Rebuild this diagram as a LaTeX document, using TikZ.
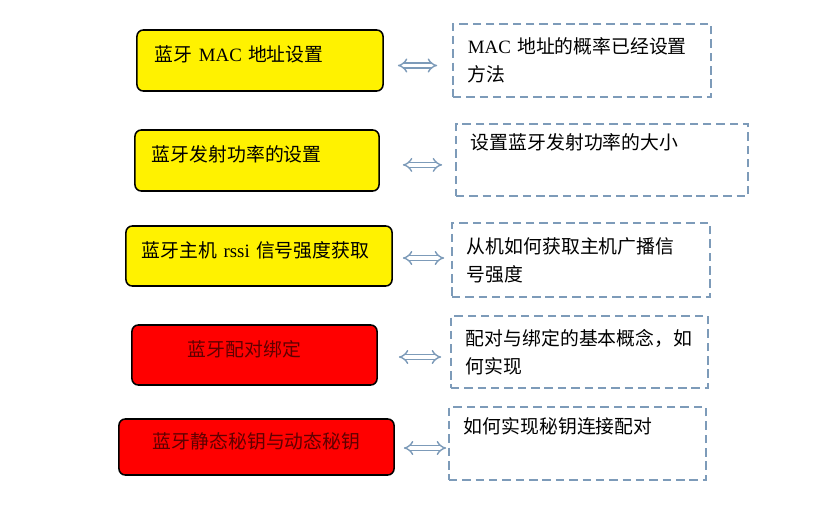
\documentclass[tikz,border=0pt]{standalone}
\usepackage{fontspec}
\setmainfont{Noto Sans CJK SC}
\newfontfamily\latinfont{Liberation Serif}
\usetikzlibrary{arrows.meta}

\definecolor{noteblue}{RGB}{125,155,185}
\definecolor{titlered}{RGB}{95,0,0}

\begin{document}
\begin{tikzpicture}[x=0.025cm, y=-0.025cm, font=\fontsize{13.4}{19.8}\selectfont]
        \tikzset{
            topic/.style={
                draw=black,
                line width=1.1pt,
                rounded corners=4.5pt,
                minimum height=1.5cm,
                text height=0.4cm,
                text depth=0.35cm,
                inner ysep=0pt,
                align=left
            },
            basictopic/.style={topic, fill=yellow},
            pairtopic/.style={topic, fill=red, text=titlered},
            note/.style={
                draw=noteblue,
                line width=1.1pt,
                dash pattern=on 6pt off 3.5pt,
                minimum height=1.825cm,
                inner xsep=0.375cm,
                align=left
            },
            link/.style={
                draw=noteblue,
                double=white,
                double distance=2.4pt,
                line width=1pt,
                {Implies[length=4pt]}-{Implies[length=4pt]}
            }
        }

        \useasboundingbox (0, 0) rectangle (830, 513);

        % left column: topics
        \node[basictopic, minimum height=1.525cm, inner xsep=0.45cm, text width=5.25cm]
            (mac) at (260, 60.5) {蓝牙{\latinfont\ MAC\ }地址设置};
        \node[basictopic, minimum height=1.525cm, inner xsep=0.425cm, text width=5.25cm]
            (power) at (257, 160.5) {蓝牙发射功率的设置};
        \node[basictopic, inner xsep=0.4cm, text width=5.85cm]
            (rssi) at (259, 256) {蓝牙主机{\latinfont\ rssi\ }信号强度获取};
        \node[pairtopic, inner xsep=1.4cm, text width=3.325cm]
            (bond) at (254.5, 355) {蓝牙配对绑定};
        \node[pairtopic, minimum height=1.4cm, inner xsep=0.85cm, text width=5.175cm]
            (passkey) at (256.5, 447) {蓝牙静态秘钥与动态秘钥};

        % right column: notes
        \node[note, text width=5.7cm] (macnote) at (582, 60.5)
            {{\latinfont MAC\ }地址的概率已经设置\\方法};
        \node[note, minimum height=1.8cm, text width=6.55cm] (powernote) at (602, 160)
            {设置蓝牙发射功率的大小\\\strut};
        \node[note, minimum height=1.85cm, text width=5.7cm] (rssinote) at (581, 260)
            {从机如何获取主机广播信\\号强度};
        \node[note, minimum height=1.8cm, text width=5.675cm] (bondnote) at (579.5, 352)
            {配对与绑定的基本概念，如\\何实现};
        \node[note, text width=5.675cm] (passkeynote) at (577.5, 443.5)
            {如何实现秘钥连接配对\\\strut};

        \draw[link, shorten <=0.35cm, shorten >=0.375cm]
            ([yshift=-0.125cm]mac.east) -- ([yshift=-0.125cm]mac.east -| macnote.west);
        \draw[link, shorten <=0.575cm, shorten >=0.325cm]
            ([yshift=-0.11cm]power.east) -- ([yshift=-0.11cm]power.east -| powernote.west);
        \draw[link, shorten <=0.25cm, shorten >=0.175cm]
            ([yshift=-0.05cm]rssi.east) -- ([yshift=-0.05cm]rssi.east -| rssinote.west);
        \draw[link, shorten <=0.525cm, shorten >=0.225cm]
            ([yshift=-0.05cm]bond.east) -- ([yshift=-0.05cm]bond.east -| bondnote.west);
        \draw[link, shorten <=0.225cm, shorten >=0.05cm]
            ([yshift=-0.025cm]passkey.east) -- ([yshift=-0.025cm]passkey.east -| passkeynote.west);
    \end{tikzpicture}
\end{document}
